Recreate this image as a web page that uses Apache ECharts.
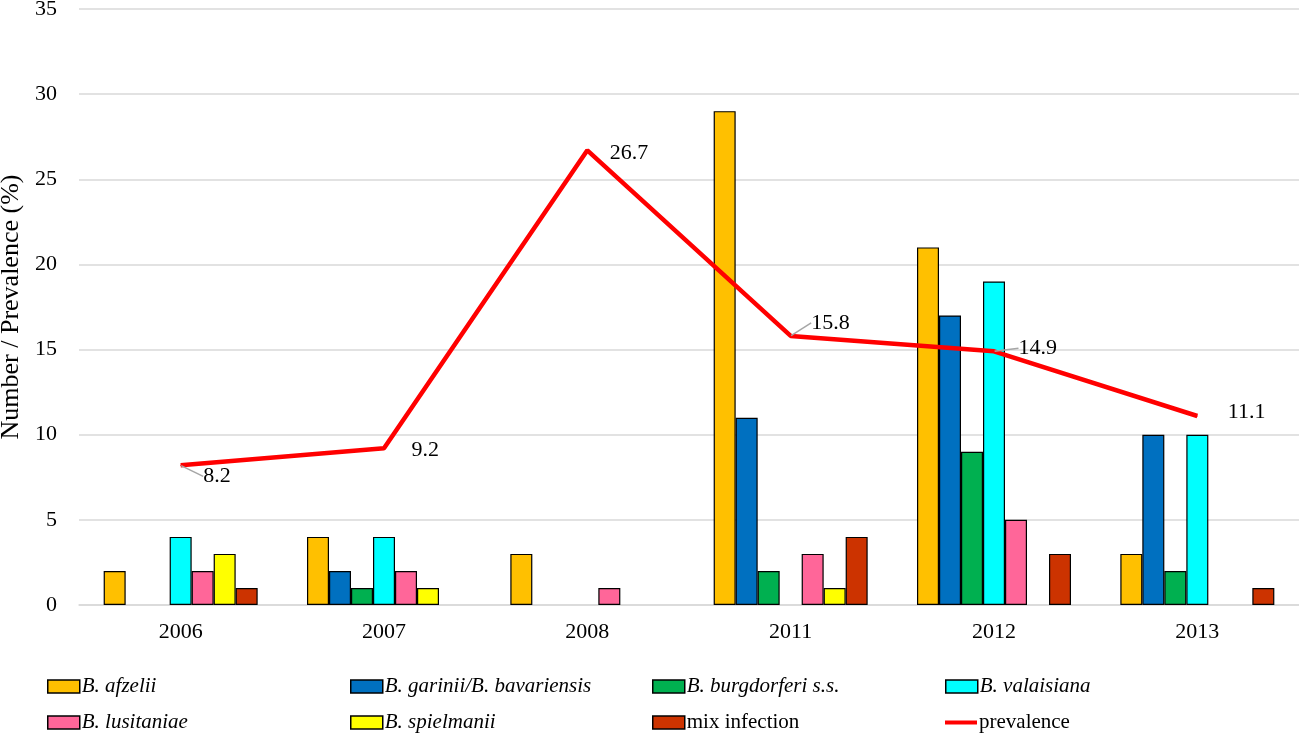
<!DOCTYPE html>
<html lang="en">
<head>
	<meta charset="UTF-8">
	<title>Borrelia prevalence</title>
	<script src="https://cdn.jsdelivr.net/npm/echarts@6/dist/echarts.min.js"></script>
	<style>
		html, body { margin:0; padding:0; background:#fff; }
	</style>
</head>
<body>
	<div id="main" style="width:1299px; height:737px"></div>
	<script>
		// data
		var years = ["2006", "2007", "2008", "2011", "2012", "2013"];
		var afzelii     = [2, 4, 3, 29, 21, 3];
		var garinii     = [0, 2, 0, 11, 17, 10];
		var burgdorferi = [0, 1, 0, 2, 9, 2];
		var valaisiana  = [4, 4, 0, 0, 19, 10];
		var lusitaniae  = [2, 2, 1, 3, 5, 0];
		var spielmanii  = [3, 1, 0, 1, 0, 0];
		var mixInfection = [1, 0, 0, 4, 3, 1];
		var prevalence  = [8.2, 9.2, 26.7, 15.8, 14.9, 11.1];

		var serif = "Liberation Serif";

		// label nudges for the prevalence values (px)
		var labelShift = [[17, 11], [22, 2], [17, 3], [15, -13], [19, -3], [25, -4]];
		var withLeader = [true, false, false, true, true, false];

		var barDefs = [
			{ name: "B. afzelii", data: afzelii, color: "#FFC000" },
			{ name: "B. garinii/B. bavariensis", data: garinii, color: "#0070C0" },
			{ name: "B. burgdorferi s.s.", data: burgdorferi, color: "#00B050" },
			{ name: "B. valaisiana", data: valaisiana, color: "#00FFFF" },
			{ name: "B. lusitaniae", data: lusitaniae, color: "#FF6699" },
			{ name: "B. spielmanii", data: spielmanii, color: "#FFFF00" },
			{ name: "mix infection", data: mixInfection, color: "#CC3300" }
		];

		var series = barDefs.map(function (d) {
			return {
				name: d.name,
				type: "bar",
				barWidth: 22,
				barGap: "0%",
				itemStyle: { color: d.color, borderColor: "#000", borderWidth: 1.2 },
				data: d.data.map(function (v) { return v === 0 ? "-" : v; })
			};
		});

		series.push({
			name: "prevalence",
			type: "line",
			symbol: "circle",
			symbolSize: 1,
			showSymbol: true,
			z: 5,
			lineStyle: { color: "#FF0000", width: 4.5 },
			itemStyle: { color: "#FF0000" },
			label: {
				show: true,
				position: "right",
				distance: 5,
				color: "#000",
				fontFamily: serif,
				fontSize: 22
			},
			labelLine: { show: false, lineStyle: { color: "#A6A6A6", width: 1.5 } },
			labelLayout: function (p) {
				var s = labelShift[p.dataIndex];
				return { dx: s[0], dy: s[1] };
			},
			data: prevalence.map(function (v, i) {
				return { value: v, labelLine: { show: withLeader[i], length2: 0 } };
			})
		});

		// legend placed item by item, two rows of four
		var legendSlots = [[47, 676], [350, 676], [652, 676], [945, 676],
		                   [47, 712], [350, 712], [652, 712], [945, 712]];
		var legendNames = barDefs.map(function (d) { return d.name; }).concat(["prevalence"]);
		var legends = legendNames.map(function (n, i) {
			var isLine = n === "prevalence";
			return {
				data: [n],
				left: legendSlots[i][0],
				top: legendSlots[i][1],
				padding: 0,
				icon: "rect",
				itemWidth: 32,
				itemHeight: isLine ? 4 : 13,
				itemGap: 0,
				selectedMode: false,
				textStyle: {
					fontFamily: serif,
					fontSize: 21,
					color: "#000",
					fontStyle: n.indexOf("B.") === 0 ? "italic" : "normal",
					padding: [0, 0, 0, -3]
				},
				itemStyle: isLine ? { borderWidth: 0 } : { borderColor: "#000", borderWidth: 1.5 }
			};
		});

		var myChart = echarts.init(document.getElementById("main"));
		myChart.setOption({
			animation: false,
			grid: { left: 79, right: 0, top: 9, bottom: 132, containLabel: false, outerBoundsMode: "none" },
			legend: legends,
			xAxis: {
				type: "category",
				data: years,
				axisLine: { lineStyle: { color: "#D9D9D9", width: 1.5 } },
				axisTick: { show: false },
				axisLabel: { color: "#000", fontFamily: serif, fontSize: 22, margin: 16 }
			},
			yAxis: {
				type: "value",
				min: 0,
				max: 35,
				interval: 5,
				name: "Number / Prevalence (%)",
				nameLocation: "middle",
				nameGap: 51,
				nameTextStyle: { color: "#000", fontFamily: serif, fontSize: 26 },
				axisLine: { show: false },
				axisTick: { show: false },
				axisLabel: { color: "#000", fontFamily: serif, fontSize: 22, margin: 22 },
				splitLine: { lineStyle: { color: "#D9D9D9", width: 1.5 } }
			},
			series: series
		});
	</script>
</body>
</html>
